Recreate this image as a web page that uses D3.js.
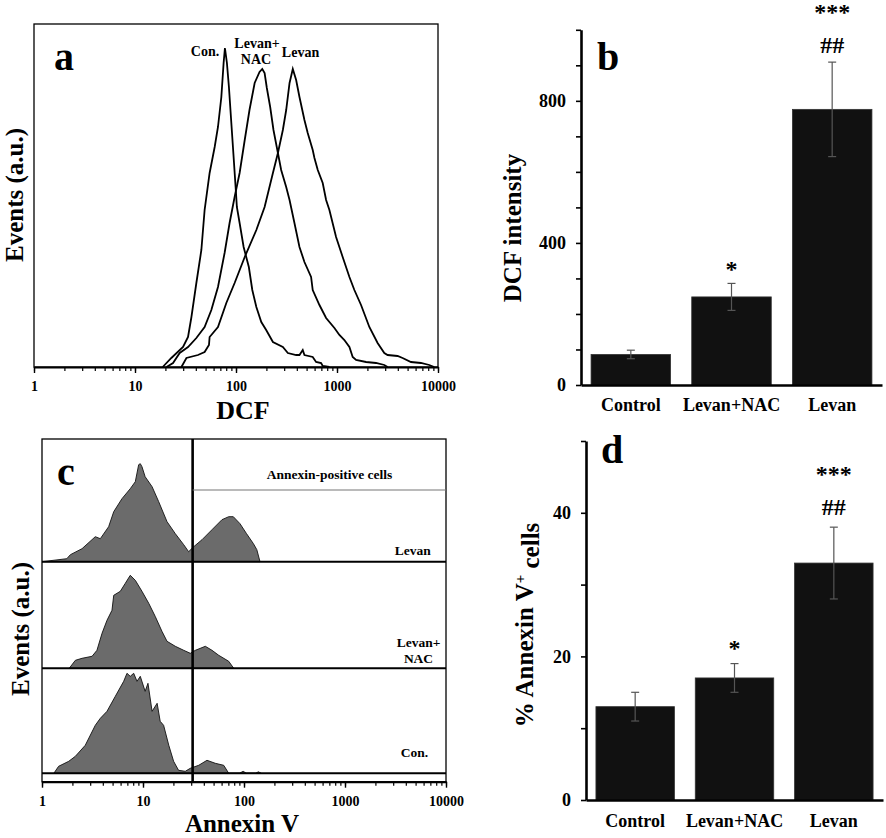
<!DOCTYPE html>
<html><head><meta charset="utf-8">
<script src="https://cdn.jsdelivr.net/npm/d3@7"></script>
<style>
body{margin:0;background:#fff}
text{font-family:"Liberation Serif","Times New Roman",serif;font-weight:bold;fill:#000}
</style>
</head><body>
<svg id="fig" width="886" height="838"></svg>
<script>
// ---------- DATA ----------
const logTickLabels = [1, 10, 100, 1000, 10000];

// Panel a: DCF histograms [DCF, events a.u.]
const dcfCon = [[18.8,0],[22.9,9],[29.9,20],[33.5,30],[36.2,50],[40.5,84],[45.4,117],[48.9,157],[54.8,194],[61.5,220],[66.3,240],[71.6,270],[75.4,304],[77.7,319],[81.3,304],[85.1,280],[89.9,244],[94.7,210],[99.1,180],[102,160],[108.6,144],[119,120],[134,100],[145,77],[159,60],[178,45],[199,37],[232,25],[291,20],[326,14],[394,12],[425,12],[458,17],[476,12],[575,10],[621,5],[696,4],[722,1],[841,0]];
const dcfNac = [[20.5,0],[23.8,4],[27.7,14],[33.5,20],[40.5,29],[48.9,40],[57.0,57],[66.3,80],[77.1,114],[86.4,144],[96.9,170],[108.6,194],[122,227],[136,257],[153,284],[171,295],[182,298],[192,294],[202,279],[218,260],[235,237],[260,214],[280,197],[314,180],[339,167],[379,144],[425,120],[476,105],[554,90],[575,77],[670,62],[780,49],[943,39],[1056,32],[1183,27],[1327,20],[1430,10],[1545,7],[1940,5],[2434,4],[2940,2],[3170,0]];
const dcfLevan = [[28.8,0],[32.3,9],[42.0,12],[48.9,15],[54.0,22],[54.8,30],[66.3,40],[80.2,64],[96.9,84],[122,110],[159,137],[192,160],[232,194],[260,214],[291,237],[314,257],[339,284],[365,298],[394,287],[425,270],[476,247],[513,234],[575,217],[598,209],[645,197],[722,184],[780,167],[841,157],[979,130],[1138,110],[1327,90],[1486,77],[1730,62],[2090,40],[2523,24],[2940,14],[3170,12],[3980,11],[4460,9],[5400,5],[6780,4],[8190,2],[9170,0]];
const dcfLabels = ["Con.", "Levan+", "NAC", "Levan"];

// Panel b
const groups = ["Control", "Levan+NAC", "Levan"];
const dcfMean = [86, 248, 776];
const dcfErr = [12, 38, 133];
const dcfSig = [["", ""], ["", "*"], ["##", "***"]];
const dcfTicks = [0, 400, 800];

// Panel c: Annexin V histograms [Annexin V, events a.u.]
const annLevan = [[1.0,0],[1.76,3],[1.91,7],[2.49,13],[3.37,25],[3.78,23],[4.57,35],[5.13,50],[6.19,63],[7.48,73],[8.39,80],[9.06,97],[9.40,98],[9.77,95],[10.5,85],[12.3,75],[14.3,60],[17.3,40],[20.9,28],[25.3,17],[28.3,10],[31.8,15],[38.4,22],[48.2,32],[60.5,42],[70.6,45],[78.4,45],[91.3,38],[106,28],[124,18],[134,12],[144,0]];
const annNac = [[1.86,0],[2.14,8],[2.49,10],[3.13,12],[3.50,18],[3.93,35],[4.40,48],[4.93,58],[5.13,73],[5.96,77],[6.68,85],[7.48,93],[8.39,88],[9.77,77],[11.4,65],[13.2,52],[15.4,37],[17.3,27],[20.9,22],[25.3,18],[29.4,15],[33.0,18],[41.4,22],[48.2,18],[56.2,13],[70.6,7],[79.1,0]];
const annCon = [[1.31,0],[1.46,7],[1.84,12],[2.14,17],[2.68,28],[3.37,48],[3.78,55],[4.40,62],[5.32,77],[6.44,92],[6.94,100],[7.48,97],[8.09,100],[8.72,92],[9.40,97],[10.5,82],[11.2,90],[12.3,62],[13.8,70],[14.8,52],[16.0,48],[18.0,28],[20.1,12],[22.5,3],[26.2,2],[29.4,5],[35.6,8],[43.0,13],[52.0,10],[63.0,8],[70.6,0],[90,0],[98,2],[106,0],[130,0],[139,1.5],[148,0]];
const annGate = 31;
const annLabels = ["Levan", "Levan+", "NAC", "Con."];

// Panel d
const annMean = [13, 17, 33];
const annErr = [2, 2, 5];
const annSig = [["", ""], ["", "*"], ["##", "***"]];
const annTicks = [0, 20, 40];

// ---------- DRAW ----------
const svg = d3.select("#fig");
const minorLog = [];
for (let d = 1; d < 10000; d *= 10) for (let k = 1; k < 10; k++) minorLog.push(d * k);
minorLog.push(10000);

function logAxis(g, x, y0) {
  const minor = g.append("g").attr("transform", `translate(0,${y0})`)
    .call(d3.axisBottom(x).tickValues(minorLog).tickSize(4).tickFormat(""));
  minor.select(".domain").remove();
  minor.selectAll("line").attr("stroke-width", 1.2);
  const major = g.append("g").attr("transform", `translate(0,${y0})`)
    .call(d3.axisBottom(x).tickValues(logTickLabels).tickSize(6).tickSizeOuter(0).tickPadding(8)
      .tickFormat(d3.format("d")));
  major.select(".domain").attr("stroke-width", 2);
  major.selectAll("line").attr("stroke-width", 1.4);
  major.selectAll("text").style("font-size", "14px");
  return major;
}

// ---- Panel a ----
{
  const g = svg.append("g");
  const x = d3.scaleLog().domain([1, 10000]).range([34, 438]);
  const y = d3.scaleLinear().domain([0, 343]).range([367, 24]);
  g.append("rect").attr("x", 34).attr("y", 24).attr("width", 404).attr("height", 343)
    .attr("fill", "none").attr("stroke", "#000").attr("stroke-width", 1.3);
  const line = d3.line().x(d => x(d[0])).y(d => y(d[1]));
  [dcfCon, dcfNac, dcfLevan].forEach(s => {
    g.append("path").attr("d", line(s)).attr("fill", "none").attr("stroke", "#000").attr("stroke-width", 1.8);
  });
  logAxis(g, x, 367);
  const lp = [[205, 55.5], [257, 48], [256, 64], [300.5, 57]];
  dcfLabels.forEach((t, i) => g.append("text").attr("x", lp[i][0]).attr("y", lp[i][1])
    .attr("text-anchor", "middle").style("font-size", "14px").text(t));
  g.append("text").attr("x", 54).attr("y", 70).style("font-size", "40px").text("a");
  g.append("text").attr("transform", "translate(23,195) rotate(-90)").attr("text-anchor", "middle")
    .style("font-size", "25px").text("Events (a.u.)");
  g.append("text").attr("x", 243).attr("y", 419).attr("text-anchor", "middle")
    .style("font-size", "26px").text("DCF");
}

// ---- Bar panels b & d ----
function barPanel(cfg) {
  const g = svg.append("g");
  const x = d3.scaleBand().domain(groups).range([cfg.x0, cfg.x1]).paddingInner(0.21).paddingOuter(0.1);
  const y = d3.scaleLinear().domain([0, cfg.max]).range([cfg.y0, cfg.yTop]);
  g.selectAll("rect.bar").data(groups).join("rect").attr("class", "bar")
    .attr("x", d => x(d)).attr("width", x.bandwidth())
    .attr("y", (d, i) => y(cfg.mean[i])).attr("height", (d, i) => y(0) - y(cfg.mean[i]))
    .attr("fill", "#111").attr("stroke", "#333").attr("stroke-width", 0.8);
  groups.forEach((d, i) => {
    const cx = x(d) + x.bandwidth() / 2;
    const hi = y(cfg.mean[i] + cfg.err[i]), lo = y(cfg.mean[i] - cfg.err[i]);
    g.append("line").attr("x1", cx).attr("x2", cx).attr("y1", hi).attr("y2", lo).attr("stroke", "#555").attr("stroke-width", 1.2);
    [hi, lo].forEach(v => g.append("line").attr("x1", cx - 4).attr("x2", cx + 4).attr("y1", v).attr("y2", v)
      .attr("stroke", "#555").attr("stroke-width", 1.2));
  });
  groups.forEach((d, i) => {
    const cx = x(d) + x.bandwidth() / 2;
    const [hash, star] = cfg.sig[i];
    if (star) g.append("text").attr("x", cx).attr("y", cfg.starY[i]).attr("text-anchor", "middle")
      .style("font-size", "24px").text(star);
    if (hash) g.append("text").attr("x", cx).attr("y", cfg.hashY[i]).attr("text-anchor", "middle")
      .style("font-size", "24px").text(hash);
  });
  const ya = g.append("g").attr("transform", `translate(${cfg.x0},0)`)
    .call(d3.axisLeft(y).tickValues(d3.range(0, cfg.max + 0.001, cfg.minor)).tickSize(5).tickSizeOuter(0).tickPadding(10)
      .tickFormat(v => cfg.ticks.includes(v) ? v : ""));
  ya.select(".domain").attr("stroke-width", 2.6);
  ya.selectAll("line").attr("stroke-width", 1.6);
  ya.selectAll("text").style("font-size", "18px");
  const xa = g.append("g").attr("transform", `translate(0,${cfg.y0})`)
    .call(d3.axisBottom(x).tickSize(0).tickSizeOuter(0).tickPadding(cfg.xPad));
  xa.select(".domain").attr("stroke-width", 2.6);
  xa.selectAll("text").style("font-size", "18px");
  g.append("text").attr("x", cfg.letter[0]).attr("y", cfg.letter[1]).style("font-size", "40px").text(cfg.name);
  return {g, x, y};
}

barPanel({name: "b", x0: 581, x1: 882, y0: 385, yTop: 29.8, max: 1000, minor: 100, ticks: dcfTicks,
  mean: dcfMean, err: dcfErr, sig: dcfSig, starY: [0, 276.5, 20], hashY: [0, 0, 53],
  xPad: 13, letter: [597, 70]}).g
  .append("text").attr("transform", "translate(521,228) rotate(-90)").attr("text-anchor", "middle")
  .style("font-size", "25px").text("DCF intensity");

{
  const p = barPanel({name: "d", x0: 586, x1: 883, y0: 800, yTop: 441, max: 50, minor: 10, ticks: annTicks,
    mean: annMean, err: annErr, sig: annSig, starY: [0, 655.5, 481.5], hashY: [0, 0, 515],
    xPad: 14.5, letter: [601, 463]});
  const t = p.g.append("text").attr("transform", "translate(533,625) rotate(-90)").attr("text-anchor", "middle")
    .style("font-size", "25px");
  t.append("tspan").text("% Annexin V");
  t.append("tspan").attr("dy", "-0.55em").style("font-size", "15px").text("+");
  t.append("tspan").attr("dy", "0.55em").text(" cells");
}

// ---- Panel c ----
{
  const g = svg.append("g");
  const x = d3.scaleLog().domain([1, 10000]).range([42, 446]);
  const top = 439, bottom = 781.7;
  const bases = [561.7, 668.3, 773.3];
  const series = [annLevan, annNac, annCon];
  series.forEach((s, i) => {
    const y = d3.scaleLinear().domain([0, 120]).range([bases[i], bases[i] - 120]);
    const area = d3.area().x(d => x(d[0])).y0(bases[i]).y1(d => y(d[1]));
    g.append("path").attr("d", area(s)).attr("fill", "#6b6b6b").attr("stroke", "#111").attr("stroke-width", 0.9);
  });
  bases.forEach(b => g.append("line").attr("x1", 42).attr("x2", 446).attr("y1", b).attr("y2", b)
    .attr("stroke", "#000").attr("stroke-width", 2));
  g.append("rect").attr("x", 42).attr("y", top).attr("width", 404).attr("height", bottom - top)
    .attr("fill", "none").attr("stroke", "#000").attr("stroke-width", 1.3);
  g.append("line").attr("x1", x(annGate)).attr("x2", x(annGate)).attr("y1", top).attr("y2", bottom)
    .attr("stroke", "#000").attr("stroke-width", 2.6);
  g.append("line").attr("x1", x(annGate)).attr("x2", 446).attr("y1", 490).attr("y2", 490)
    .attr("stroke", "#777").attr("stroke-width", 1.2);
  g.append("text").attr("x", 329.5).attr("y", 478.5).attr("text-anchor", "middle")
    .style("font-size", "13.5px").text("Annexin-positive cells");
  logAxis(g, x, bottom);
  const lp = [[412.7, 555], [418.5, 646.7], [418.5, 662.7], [414.5, 756.7]];
  annLabels.forEach((t, i) => g.append("text").attr("x", lp[i][0]).attr("y", lp[i][1])
    .attr("text-anchor", "middle").style("font-size", "13.5px").text(t));
  g.append("text").attr("x", 57).attr("y", 485).style("font-size", "40px").text("c");
  g.append("text").attr("transform", "translate(29,629) rotate(-90)").attr("text-anchor", "middle")
    .style("font-size", "25px").text("Events (a.u.)");
  g.append("text").attr("x", 242).attr("y", 832).attr("text-anchor", "middle")
    .style("font-size", "25px").text("Annexin V");
}
</script>
</body></html>
